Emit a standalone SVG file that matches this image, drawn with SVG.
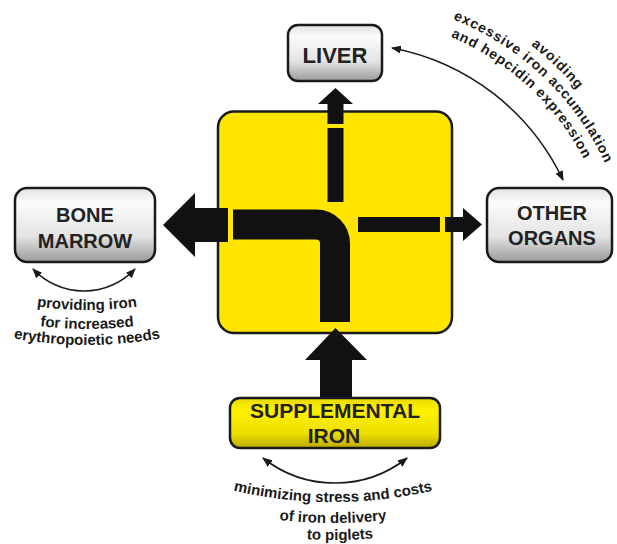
<svg xmlns="http://www.w3.org/2000/svg" width="617" height="544" viewBox="0 0 617 544">
<defs>
<linearGradient id="gray" x1="0" y1="0" x2="0" y2="1">
<stop offset="0" stop-color="#e2e2e2"/>
<stop offset="0.2" stop-color="#fbfbfb"/>
<stop offset="0.65" stop-color="#e4e4e4"/>
<stop offset="1" stop-color="#9a9a9a"/>
</linearGradient>
<linearGradient id="yel" x1="0" y1="0" x2="0" y2="1">
<stop offset="0" stop-color="#e6d900"/>
<stop offset="0.25" stop-color="#fff200"/>
<stop offset="0.7" stop-color="#eddf00"/>
<stop offset="1" stop-color="#bcaa00"/>
</linearGradient>
<marker id="ah" viewBox="0 0 10 8" refX="9" refY="4" markerWidth="10" markerHeight="8" markerUnits="userSpaceOnUse" orient="auto-start-reverse">
<path d="M0,0 L10,4 L0,8 z" fill="#1a1a1a"/>
</marker>
<path id="pAvoid" d="M531,45.4 A300,300 0 0 1 643.5,230"/>
<path id="pExc" d="M453.1,19.3 A283,283 0 0 1 626.7,232.9"/>
<path id="pAnd" d="M450.7,36.9 A266,266 0 0 1 610,236"/>
<path id="pProv" d="M-13,296 A365,365 0 0 0 187,296"/>
<path id="pFor" d="M-13,315.75 A384,384 0 0 0 187,315.75"/>
<path id="pEry" d="M-13,332.3 A400,400 0 0 0 187,332.3"/>
<path id="pMin" d="M193,479.1 A439,439 0 0 0 473,479.1"/>
<path id="pOf" d="M193,501.2 A460,460 0 0 0 473,501.2"/>
<path id="pTo" d="M193,519 A477,477 0 0 0 473,519"/>
</defs>
<style>
.box{stroke:#1a1a1a;stroke-width:2.5}
.lbl{font-family:"Liberation Sans",Arial,sans-serif;font-weight:bold;fill:#222;text-anchor:middle}
.note{font-family:"Liberation Sans",Arial,sans-serif;font-weight:bold;fill:#1a1a1a;font-size:15px}
.arc{font-size:14px;letter-spacing:0.9px}
.curve{fill:none;stroke:#1a1a1a;stroke-width:1.6;marker-start:url(#ah);marker-end:url(#ah)}
.blk{fill:#111}
</style>

<g id="node-hub">
<rect x="218" y="111.5" width="234" height="221.5" rx="16" fill="#ffe500" stroke="#1a1a1a" stroke-width="2.5"/>
<rect class="blk" x="327.5" y="128" width="16" height="74"/>
<path d="M233,224.5 H316 A19,19 0 0 1 335,243.5 V322" fill="none" stroke="#111" stroke-width="30"/>
<rect class="blk" x="358" y="217" width="82" height="15"/>
</g>

<g id="node-liver">
<rect class="box" x="288" y="25" width="94" height="56" rx="10" fill="url(#gray)"/>
<text class="lbl" x="335" y="63" font-size="22">LIVER</text>
</g>

<g id="node-bone-marrow">
<rect class="box" x="15" y="188" width="140" height="74" rx="12" fill="url(#gray)"/>
<text class="lbl" x="85" y="222" font-size="20">BONE</text>
<text class="lbl" x="85" y="248" font-size="20">MARROW</text>
</g>

<g id="node-other-organs">
<rect class="box" x="487" y="188" width="125" height="74" rx="12" fill="url(#gray)"/>
<text class="lbl" x="552" y="220" font-size="20">OTHER</text>
<text class="lbl" x="552" y="245" font-size="20">ORGANS</text>
</g>

<g id="connectors">
<polygon class="blk" points="335.5,88 318,104 327.5,104 327.5,124 343.5,124 343.5,104 353,104"/>
<polygon class="blk" points="163,225 195,193 195,208 228,208 228,242 195,242 195,257"/>
<polygon class="blk" points="445,217 463,217 463,208 482,224.5 463,241 463,232 445,232"/>
<polygon class="blk" points="335.5,328 367,360 352,360 352,397 320,397 320,360 305,360"/>
<path class="curve" d="M392,48 A238,238 0 0 1 563,180"/>
<path class="curve" d="M33,269 A70,70 0 0 0 135,269"/>
<path class="curve" d="M263,458 A116,116 0 0 0 407,458"/>
</g>

<g id="node-supplemental-iron">
<rect class="box" x="230" y="398" width="210" height="50" rx="10" fill="url(#yel)"/>
<text class="lbl" x="335" y="418" font-size="21">SUPPLEMENTAL</text>
<text class="lbl" x="334" y="443" font-size="21">IRON</text>
</g>

<g id="labels">
<text class="note arc"><textPath href="#pAvoid">avoiding</textPath></text>
<text class="note arc"><textPath href="#pExc">excessive iron accumulation</textPath></text>
<text class="note arc"><textPath href="#pAnd">and hepcidin expression</textPath></text>
<text class="note" font-size="15.5" text-anchor="middle"><textPath href="#pProv" startOffset="50%">providing iron</textPath></text>
<text class="note" font-size="16" text-anchor="middle"><textPath href="#pFor" startOffset="50%">for increased</textPath></text>
<text class="note" font-size="16" text-anchor="middle"><textPath href="#pEry" startOffset="50%">erythropoietic needs</textPath></text>
<text class="note" font-size="16" text-anchor="middle"><textPath href="#pMin" startOffset="50%">minimizing stress and costs</textPath></text>
<text class="note" font-size="16" text-anchor="middle"><textPath href="#pOf" startOffset="50%">of iron delivery</textPath></text>
<text class="note" font-size="16" text-anchor="middle"><textPath href="#pTo" startOffset="52.5%">to piglets</textPath></text>
</g>
</svg>
